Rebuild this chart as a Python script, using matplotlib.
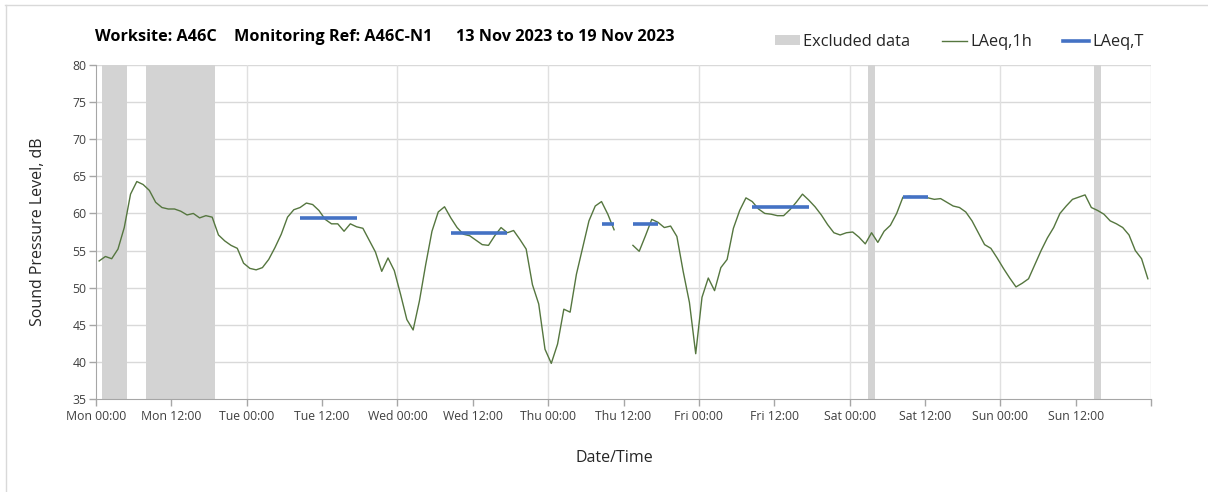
import matplotlib
matplotlib.use("Agg")
import matplotlib.pyplot as plt
from matplotlib.lines import Line2D
from matplotlib.patches import Patch
import numpy as np

plt.rcParams["font.family"] = ["Open Sans", "DejaVu Sans"]

# hourly LAeq values, Mon 13 Nov 00:00 .. Sun 19 Nov 23:00 (NaN = no data)
nan = np.nan
laeq_1h = [
    53.6, 54.2, 53.9, 55.2, 58.1, 62.6, 64.3, 63.9, 63.1, 61.5, 60.8, 60.6,
    60.6, 60.3, 59.8, 60.0, 59.4, 59.7, 59.5, 57.1, 56.3, 55.7, 55.3, 53.3,
    52.6, 52.4, 52.7, 53.8, 55.4, 57.2, 59.5, 60.5, 60.8, 61.4, 61.2, 60.4,
    59.2, 58.6, 58.6, 57.6, 58.6, 58.2, 58.0, 56.4, 54.8, 52.2, 54.0, 52.3,
    49.1, 45.7, 44.3, 48.2, 53.1, 57.6, 60.2, 60.9, 59.4, 58.1, 57.2, 57.0,
    56.4, 55.8, 55.7, 57.0, 58.1, 57.4, 57.7, 56.5, 55.2, 50.4, 47.8, 41.7,
    39.8, 42.4, 47.1, 46.7, 51.8, 55.4, 59.0, 61.0, 61.6, 59.9, 57.8, nan,
    nan, 55.7, 54.9, 57.0, 59.2, 58.8, 58.1, 58.3, 56.9, 52.2, 48.0, 41.1,
    48.7, 51.3, 49.6, 52.7, 53.8, 58.0, 60.4, 62.1, 61.6, 60.6, 60.0, 59.9,
    59.7, 59.7, 60.5, 61.5, 62.6, 61.8, 60.9, 59.8, 58.5, 57.4, 57.1, 57.4,
    57.5, 56.8, 55.9, 57.4, 56.1, 57.6, 58.4, 60.0, 62.2, 62.3, 62.2, 62.2,
    62.1, 61.9, 62.0, 61.5, 61.0, 60.8, 60.2, 59.0, 57.4, 55.8, 55.3, 54.0,
    52.6, 51.3, 50.1, 50.6, 51.2, 53.1, 55.0, 56.7, 58.1, 60.0, 61.0, 61.9,
    62.2, 62.5, 60.8, 60.4, 59.9, 59.0, 58.6, 58.1, 57.1, 55.0, 53.9, 51.2,
]

# daytime assessment periods (first hour, last hour, LAeq,T)
period_start = [32, 56, 80, 104, 128]
period_end = [41, 65, 89, 113, 132]
period_level = [59.4, 57.4, 58.6, 60.9, 62.2]

# excluded data windows, hours from Mon 00:00
excl_start = [1, 8, 123, 159]
excl_end = [5, 19, 124, 160]

day_names = ["Mon", "Tue", "Wed", "Thu", "Fri", "Sat", "Sun"]
tick_labels = [f"{d} {h}" for d in day_names for h in ("00:00", "12:00")] + [""]

levels = np.array(laeq_1h, dtype=float)
hours = np.arange(len(levels)) + 0.5

laeq_t = np.full(len(levels), np.nan)
for s, e, v in zip(period_start, period_end, period_level):
    laeq_t[s:e + 1] = v
laeq_t[np.isnan(levels)] = np.nan

fig = plt.figure(figsize=(12.08, 4.92), dpi=100)
ax = fig.add_axes([96 / 1208, 1 - 399 / 492, 1055 / 1208, 334 / 492])

for s, e in zip(excl_start, excl_end):
    ax.axvspan(s, e, color="#D3D3D3", lw=0, zorder=1)

ax.plot(hours, levels, color="#55763F", lw=1.0, zorder=3)
ax.plot(hours, laeq_t, color="#4472C4", lw=2.6, solid_capstyle="butt", zorder=4)

ax.set_xlim(0, 168)
ax.set_ylim(35, 80)
ax.set_xticks(np.arange(0, 169, 12))
ax.set_xticklabels(tick_labels)
ax.set_yticks(np.arange(35, 81, 5))

for y in range(40, 81, 5):
    ax.axhline(y, color="#D9D9D9", lw=1.0, zorder=0)
for x in range(24, 169, 24):
    ax.axvline(x, color="#E0E0E0", lw=1.0, zorder=0)

for side in ("top", "right"):
    ax.spines[side].set_visible(False)
ax.spines["left"].set_color("#A6A6A6")
ax.spines["bottom"].set_color("#A6A6A6")
ax.tick_params(axis="both", direction="out", length=5, width=1.0,
               color="#A6A6A6", labelsize=8.8, labelcolor="#404040")
ax.tick_params(axis="x", pad=3)
ax.tick_params(axis="y", pad=2)

ax.set_xlabel("Date/Time", fontsize=11.5, color="#262626")
ax.xaxis.set_label_coords(0.491, -0.153)
ax.set_ylabel("Sound Pressure Level, dB", fontsize=11.5, color="#262626")
ax.yaxis.set_label_coords(-0.0475, 0.5)

title_y = 1 - 37 / 492
fig.text(95 / 1208, title_y, "Worksite: A46C", fontsize=11.7,
         fontweight="bold", va="center", ha="left")
fig.text(234 / 1208, title_y, "Monitoring Ref: A46C-N1", fontsize=11.7,
         fontweight="bold", va="center", ha="left")
fig.text(456 / 1208, title_y, "13 Nov 2023 to 19 Nov 2023", fontsize=11.7,
         fontweight="bold", va="center", ha="left")

handles = [
    Patch(facecolor="#D3D3D3", edgecolor="none"),
    Line2D([], [], color="#55763F", lw=1.0),
    Line2D([], [], color="#4472C4", lw=2.6),
]
fig.legend(handles, ["Excluded data", "LAeq,1h", "LAeq,T"], ncol=3,
           loc="center left", bbox_to_anchor=(760 / 1208, 1 - 42 / 492),
           frameon=False, fontsize=11.8, handlelength=1.55, handleheight=0.55,
           handletextpad=0.2, columnspacing=1.9, labelcolor="#262626")

# light frame along the top and left edges of the figure
fig.add_artist(Line2D([5 / 1208, 1], [1 - 4.5 / 492, 1 - 4.5 / 492],
                      transform=fig.transFigure, color="#D9D9D9", lw=1.0))
fig.add_artist(Line2D([5.5 / 1208, 5.5 / 1208], [0, 1 - 4.5 / 492],
                      transform=fig.transFigure, color="#D9D9D9", lw=1.0))

fig.savefig("out.png", dpi=100)
